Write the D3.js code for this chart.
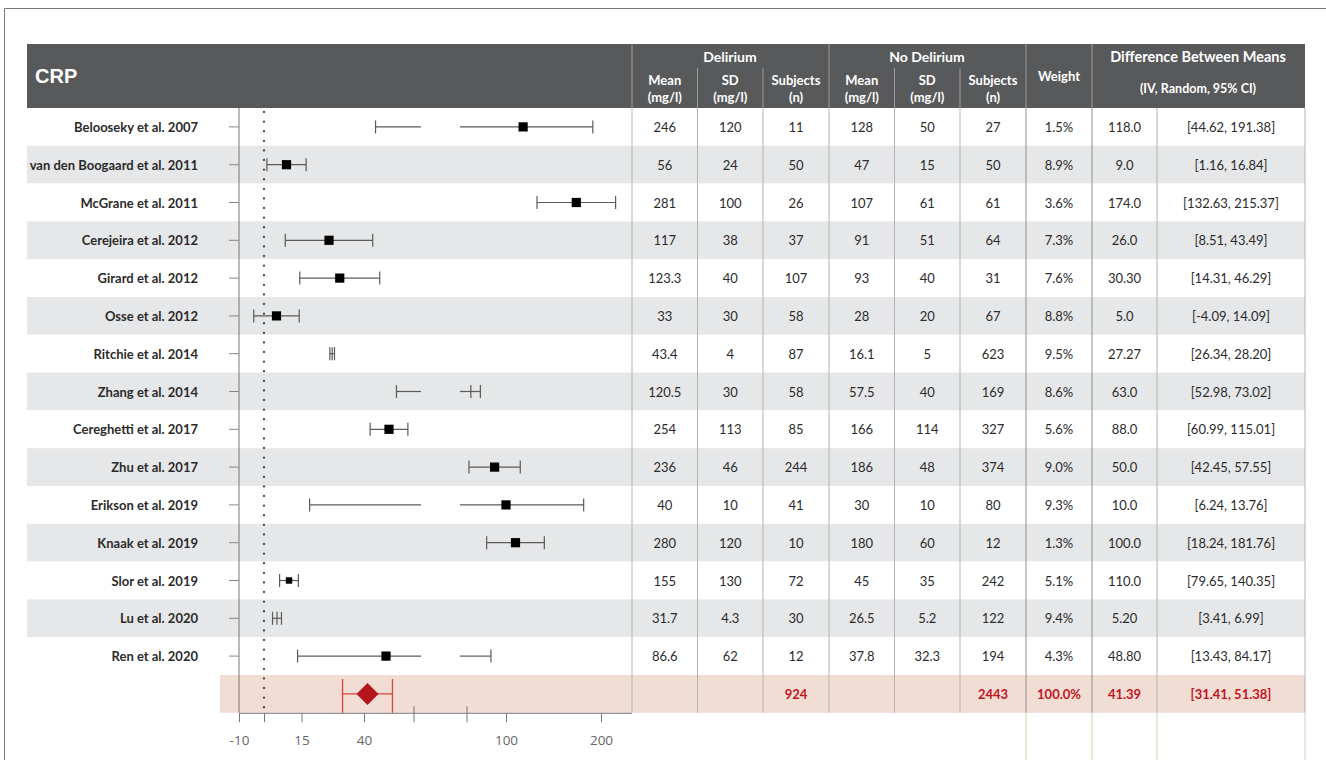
<!DOCTYPE html>
<html>
<head>
<meta charset="utf-8">
<script src="https://cdn.jsdelivr.net/npm/d3@7"></script>
<style>
  html, body { margin: 0; padding: 0; background: #fff; }
  svg { display: block; }
</style>
</head>
<body>
<div id="chart"></div>
<script>
// ---- data (as printed in the table) ----
const studies = ["Belooseky et al. 2007", "van den Boogaard et al. 2011", "McGrane et al. 2011",
  "Cerejeira et al. 2012", "Girard et al. 2012", "Osse et al. 2012", "Ritchie et al. 2014",
  "Zhang et al. 2014", "Cereghetti et al. 2017", "Zhu et al. 2017", "Erikson et al. 2019",
  "Knaak et al. 2019", "Slor et al. 2019", "Lu et al. 2020", "Ren et al. 2020"];
const delMean = ["246", "56", "281", "117", "123.3", "33", "43.4", "120.5", "254", "236", "40", "280", "155", "31.7", "86.6"];
const delSD = ["120", "24", "100", "38", "40", "30", "4", "30", "113", "46", "10", "120", "130", "4.3", "62"];
const delN = ["11", "50", "26", "37", "107", "58", "87", "58", "85", "244", "41", "10", "72", "30", "12"];
const noMean = ["128", "47", "107", "91", "93", "28", "16.1", "57.5", "166", "186", "30", "180", "45", "26.5", "37.8"];
const noSD = ["50", "15", "61", "51", "40", "20", "5", "40", "114", "48", "10", "60", "35", "5.2", "32.3"];
const noN = ["27", "50", "61", "64", "31", "67", "623", "169", "327", "374", "80", "12", "242", "122", "194"];
const weights = ["1.5%", "8.9%", "3.6%", "7.3%", "7.6%", "8.8%", "9.5%", "8.6%", "5.6%", "9.0%", "9.3%", "1.3%", "5.1%", "9.4%", "4.3%"];
const diffs = ["118.0", "9.0", "174.0", "26.0", "30.30", "5.0", "27.27", "63.0", "88.0", "50.0", "10.0", "100.0", "110.0", "5.20", "48.80"];
const ciLabels = ["[44.62, 191.38]", "[1.16, 16.84]", "[132.63, 215.37]", "[8.51, 43.49]", "[14.31, 46.29]",
  "[-4.09, 14.09]", "[26.34, 28.20]", "[52.98, 73.02]", "[60.99, 115.01]", "[42.45, 57.55]",
  "[6.24, 13.76]", "[18.24, 181.76]", "[79.65, 140.35]", "[3.41, 6.99]", "[13.43, 84.17]"];

// summary row
const totalRow = ["", "", "924", "", "", "2443", "100.0%", "41.39", "[31.41, 51.38]"];
const pooled = { mean: 41.39, lo: 31.41, hi: 51.38 };

// ---- data (as drawn in the plot, row by row) ----
const plotMean = [118.0, 9.0, 174.0, 26.0, 30.30, 5.0, 27.27, 63.0, 50.0, 88.0, 100.0, 110.0, 10.0, 5.20, 48.80];
const plotLo = [44.62, 1.16, 132.63, 8.51, 14.31, -4.09, 26.34, 52.98, 42.45, 60.99, 18.24, 79.65, 6.24, 3.41, 13.43];
const plotHi = [191.38, 16.84, 215.37, 43.49, 46.29, 14.09, 28.20, 73.02, 57.55, 115.01, 181.76, 140.35, 13.76, 6.99, 84.17];
const markerKind = ["box", "box", "box", "box", "box", "box", "tick", "tick", "box", "box", "box", "box", "small", "tick", "box"];

// axis ticks
const lowTicks = [-10, 0, 15, 40];
const highTicks = [100, 200];
const breakAt = 60;

const colorHeader = "#58595b";
const colorBand = "#e6e7e8";
const colorPink = "#f2ddd5";
const colorRed = "#c0151d";
const colorInk = "#2b2b2b";
const colorLine = "#5a5a5a";

const width = 1326, height = 760;
const left = 27, right = 1305;
const headTop = 44, headBottom = 108;
const rowH = 37.8;
const colEdges = [632, 697.5, 763, 829, 894.5, 960, 1026, 1092, 1157, 1305];

const svg = d3.select("#chart").append("svg")
  .attr("width", width)
  .attr("height", height)
  .style("font-family", "Lato, 'Open Sans', sans-serif");

const rowY = i => headBottom + rowH * i;          // top of row i
const rowC = i => headBottom + rowH * (i + 0.5);  // middle of row i
const sumTop = rowY(studies.length);
const sumBottom = sumTop + rowH;

// broken x axis: two linear pieces
const xLow = d3.scaleLinear().domain([-10, breakAt]).range([239, 414]);
const xHigh = d3.scaleLinear().domain([breakAt, 200]).range([468, 601]);
const x = v => v <= breakAt ? xLow(v) : xHigh(v);

// outer frame
svg.append("path")
  .attr("d", `M4.5,${height} V8.5 H${width}`)
  .attr("fill", "none").attr("stroke", "#777").attr("stroke-width", 1);

// ---- row bands ----
svg.append("g").selectAll("rect")
  .data(studies)
  .join("rect")
  .attr("x", left).attr("y", (d, i) => rowY(i))
  .attr("width", right - left).attr("height", rowH)
  .attr("fill", (d, i) => i % 2 ? colorBand : "#fff");

svg.append("rect")
  .attr("x", 220).attr("y", sumTop)
  .attr("width", right - 220).attr("height", rowH)
  .attr("fill", colorPink);

// ---- header ----
svg.append("rect")
  .attr("x", left).attr("y", headTop)
  .attr("width", right - left).attr("height", headBottom - headTop)
  .attr("fill", colorHeader);

svg.append("text")
  .attr("x", 35).attr("y", 76)
  .attr("dominant-baseline", "central")
  .style("font-family", "'Liberation Sans', Arial, sans-serif")
  .style("font-weight", "bold").style("font-size", "20px")
  .attr("fill", "#fff").text("CRP");

const headLines = svg.append("g").attr("stroke", "#9c9c9c").attr("stroke-width", 1);
[632, 829, 1026, 1092].forEach(cx => headLines.append("line")
  .attr("x1", cx).attr("x2", cx).attr("y1", headTop).attr("y2", headBottom));
[697.5, 763, 894.5, 960].forEach(cx => headLines.append("line")
  .attr("x1", cx).attr("x2", cx).attr("y1", 68).attr("y2", headBottom));

const headText = svg.append("g")
  .attr("fill", "#fff").attr("text-anchor", "middle")
  .style("font-weight", "bold").style("font-size", "13px");

const headItems = [
  { x: 730, y: 56, t: "Delirium", size: 14 },
  { x: 927, y: 56, t: "No Delirium", size: 14 },
  { x: 1198, y: 56, t: "Difference Between Means", size: 14.5 },
  { x: 1198, y: 88, t: "(IV, Random, 95% CI)", size: 12.5 },
  { x: 1059, y: 76, t: "Weight" }
];
const subCols = [["Mean", "(mg/l)"], ["SD", "(mg/l)"], ["Subjects", "(n)"]];
[0, 1, 2, 3, 4, 5].forEach(k => {
  const cx = (colEdges[k] + colEdges[k + 1]) / 2;
  const s = subCols[k % 3];
  headItems.push({ x: cx, y: 80, t: s[0] });
  headItems.push({ x: cx, y: 97, t: s[1] });
});

headText.selectAll("text")
  .data(headItems)
  .join("text")
  .attr("x", d => d.x).attr("y", d => d.y)
  .attr("dominant-baseline", "central")
  .style("font-size", d => (d.size || 13) + "px")
  .text(d => d.t);

// ---- study labels ----
svg.append("g")
  .attr("text-anchor", "end").attr("fill", colorInk)
  .style("font-weight", "bold").style("font-size", "13px")
  .selectAll("text")
  .data(studies)
  .join("text")
  .attr("x", 198).attr("y", (d, i) => rowC(i))
  .attr("dominant-baseline", "central")
  .text(d => d);

// ---- table body ----
const tableCols = [delMean, delSD, delN, noMean, noSD, noN, weights, diffs, ciLabels];
const cells = [];
tableCols.forEach((col, k) => {
  const cx = (colEdges[k] + colEdges[k + 1]) / 2;
  col.forEach((v, i) => cells.push({ x: cx, y: rowC(i), t: v }));
});

svg.append("g")
  .attr("text-anchor", "middle").attr("fill", colorInk)
  .style("font-size", "13px")
  .selectAll("text")
  .data(cells)
  .join("text")
  .attr("x", d => d.x).attr("y", d => d.y)
  .attr("dominant-baseline", "central")
  .text(d => d.t);

svg.append("g")
  .attr("text-anchor", "middle").attr("fill", colorRed)
  .style("font-size", "13px").style("font-weight", "bold")
  .selectAll("text")
  .data(totalRow)
  .join("text")
  .attr("x", (d, k) => (colEdges[k] + colEdges[k + 1]) / 2)
  .attr("y", (sumTop + sumBottom) / 2)
  .attr("dominant-baseline", "central")
  .text(d => d);

// table grid lines
const grid = svg.append("g").attr("stroke-width", 1);
colEdges.forEach(cx => grid.append("line")
  .attr("x1", cx).attr("x2", cx).attr("y1", headBottom).attr("y2", sumBottom)
  .attr("stroke", cx === 1026 || cx === 1092 ? "#8f8f8f" : "#b3b3b3"));
[1026, 1092, 1157].forEach(cx => grid.append("line")
  .attr("x1", cx).attr("x2", cx).attr("y1", sumBottom).attr("y2", height)
  .attr("stroke", "#c5dcae"));
grid.append("line")
  .attr("x1", 1305).attr("x2", 1305).attr("y1", sumBottom).attr("y2", height)
  .attr("stroke", "#d0d0d0");

// ---- forest plot ----
const plot = svg.append("g");

// y axis and row ticks
plot.append("line")
  .attr("x1", 239).attr("x2", 239).attr("y1", headBottom).attr("y2", sumBottom)
  .attr("stroke", "#777");
plot.append("g").selectAll("line")
  .data(studies)
  .join("line")
  .attr("x1", 229).attr("x2", 239)
  .attr("y1", (d, i) => rowC(i)).attr("y2", (d, i) => rowC(i))
  .attr("stroke", "#888");

// zero reference (dotted)
plot.append("line")
  .attr("x1", x(0)).attr("x2", x(0))
  .attr("y1", headBottom + 4).attr("y2", sumBottom - 1)
  .attr("stroke", "#4a4a4a").attr("stroke-width", 2.3)
  .attr("stroke-linecap", "round")
  .attr("stroke-dasharray", "0.1,9.5");

// bottom axis
const axisY = sumBottom + 0.5;
plot.append("line")
  .attr("x1", 239).attr("x2", 632).attr("y1", axisY).attr("y2", axisY)
  .attr("stroke", "#777");

const styleAxis = g => {
  g.select(".domain").remove();
  g.selectAll(".tick line").attr("stroke", "#777");
  g.selectAll(".tick text")
    .attr("fill", "#666")
    .style("font-family", "'Open Sans', Lato, sans-serif")
    .style("font-size", "13.5px");
};

plot.append("g")
  .attr("transform", `translate(0,${axisY})`)
  .call(d3.axisBottom(xLow).tickValues(lowTicks).tickSize(9).tickSizeOuter(0).tickPadding(13)
    .tickFormat(d => d === 0 ? "" : d))
  .call(styleAxis);
plot.append("g")
  .attr("transform", `translate(0,${axisY})`)
  .call(d3.axisBottom(xHigh).tickValues(highTicks).tickSize(9).tickSizeOuter(0).tickPadding(13))
  .call(styleAxis);

// break marks
[xLow(breakAt), xHigh(breakAt) - 1].forEach(bx => plot.append("line")
  .attr("x1", bx).attr("x2", bx).attr("y1", axisY - 7).attr("y2", axisY + 9)
  .attr("stroke", "#777"));

// confidence intervals
const capH = 6.5;
const gap = 7;
const ci = plot.append("g").attr("stroke", colorLine).attr("stroke-width", 1.2);

plotMean.forEach((m, i) => {
  const cy = rowC(i);
  const lo = plotLo[i], hi = plotHi[i];
  const segs = [];
  if (lo < breakAt && hi > breakAt) {
    segs.push([x(lo), xLow(breakAt) + gap]);
    segs.push([xHigh(breakAt) - gap - 1, x(hi)]);
  } else {
    segs.push([x(lo), x(hi)]);
  }
  segs.forEach(s => ci.append("line")
    .attr("x1", s[0]).attr("x2", s[1]).attr("y1", cy).attr("y2", cy));

  const caps = [lo, hi];
  if (markerKind[i] === "tick") caps.push(m);
  caps.forEach(v => ci.append("line")
    .attr("x1", x(v)).attr("x2", x(v))
    .attr("y1", cy - capH).attr("y2", cy + capH));
});

// study squares
plot.append("g").selectAll("rect")
  .data(plotMean.map((m, i) => ({ m, i, kind: markerKind[i] })).filter(d => d.kind !== "tick"))
  .join("rect")
  .attr("x", d => x(d.m) - (d.kind === "small" ? 3.2 : 4.6))
  .attr("y", d => rowC(d.i) - (d.kind === "small" ? 3.2 : 4.6))
  .attr("width", d => d.kind === "small" ? 6.4 : 9.2)
  .attr("height", d => d.kind === "small" ? 6.4 : 9.2)
  .attr("fill", "#000");

// pooled estimate
const sumC = (sumTop + sumBottom) / 2;
const pooledG = plot.append("g").attr("stroke", "#d8433d").attr("stroke-width", 1.3);
pooledG.append("line")
  .attr("x1", x(pooled.lo)).attr("x2", x(pooled.hi)).attr("y1", sumC).attr("y2", sumC);
[pooled.lo, pooled.hi].forEach(v => pooledG.append("line")
  .attr("x1", x(v)).attr("x2", x(v)).attr("y1", sumTop + 4).attr("y2", sumBottom));

const dx = 11, dy = 11, px = x(pooled.mean);
plot.append("path")
  .attr("d", `M${px - dx},${sumC} L${px},${sumC - dy} L${px + dx},${sumC} L${px},${sumC + dy} Z`)
  .attr("fill", "#b5161e");
</script>
</body>
</html>
